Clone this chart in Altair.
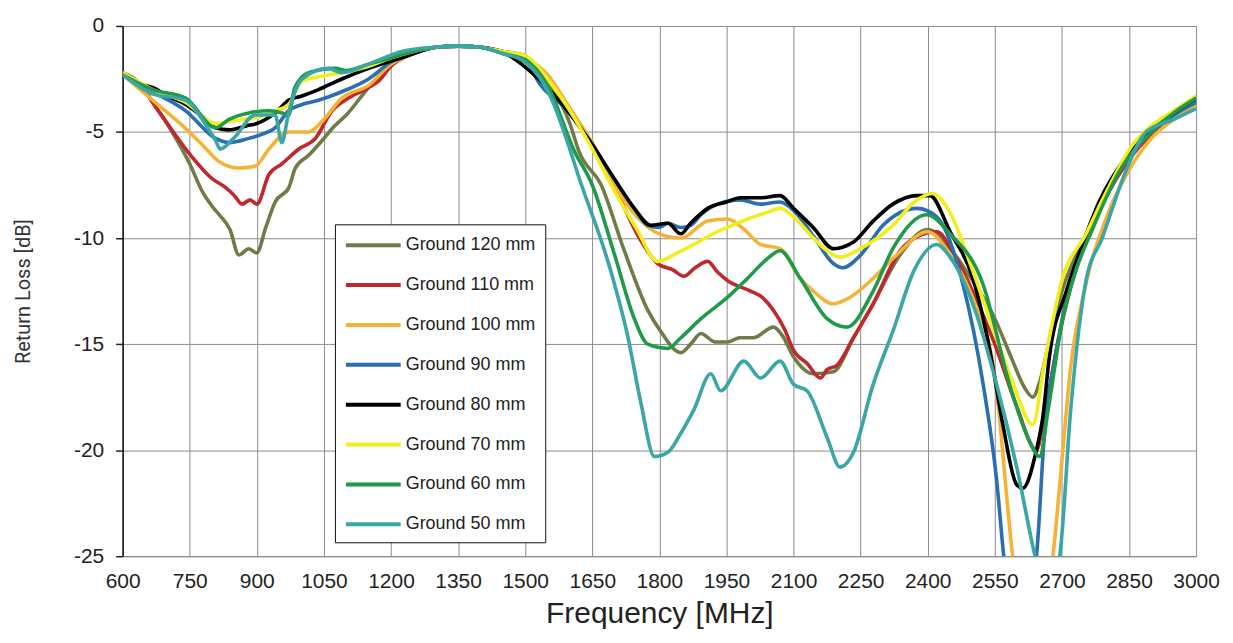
import altair as alt
import pandas as pd

series_names = ["Ground 120 mm", "Ground 110 mm", "Ground 100 mm", "Ground 90 mm",
                "Ground 80 mm", "Ground 70 mm", "Ground 60 mm", "Ground 50 mm"]
series_colors = ["#6e7c47", "#c1272d", "#f5b335", "#2a6fb0",
                 "#000000", "#f2ee1e", "#1f9a4a", "#3aa6a6"]

f_120 = [600, 650, 667, 705, 750, 778, 800, 816, 840, 860, 882, 900, 920, 941, 972, 986, 1016, 1046,
         1070, 1100, 1150, 1200, 1250, 1300, 1350, 1400, 1450, 1500, 1550, 1600, 1620, 1670, 1720,
         1774, 1803, 1848, 1870, 1893, 1925, 1952, 1980, 2010, 2055, 2075, 2100, 2145, 2189, 2234,
         2278, 2338, 2400, 2450, 2500, 2550, 2590, 2615, 2635, 2650, 2680, 2700, 2750, 2800, 2850,
         2900, 2950, 3000]
rl_120 = [-2.2, -3.0, -3.6, -4.8, -6.5, -7.8, -8.5, -8.9, -9.6, -10.8, -10.5, -10.7, -9.5, -8.3, -7.6,
          -6.7, -6.1, -5.4, -4.8, -4.2, -2.9, -1.8, -1.3, -1.0, -0.95, -1.0, -1.3, -1.7, -2.6, -4.6,
          -5.9, -7.5, -10.5, -13.4, -14.4, -15.4, -15.0, -14.5, -14.9, -14.9, -14.7, -14.7, -14.2,
          -14.6, -15.6, -16.4, -16.3, -14.7, -13.1, -10.8, -9.6, -10.5, -12.0, -13.8, -15.8, -17.0,
          -17.5, -16.8, -14.0, -12.5, -10.0, -7.8, -6.2, -5.0, -4.2, -3.5]

f_110 = [600, 650, 667, 700, 756, 800, 829, 850, 867, 885, 900, 927, 956, 994, 1031, 1068, 1105, 1150,
         1172, 1200, 1250, 1300, 1350, 1400, 1450, 1500, 1550, 1600, 1650, 1700, 1750, 1796, 1830,
         1855, 1880, 1908, 1930, 1952, 2004, 2030, 2055, 2080, 2100, 2130, 2160, 2175, 2197, 2234,
         2278, 2338, 2380, 2420, 2460, 2500, 2550, 2600, 2643, 2660, 2690, 2720, 2760, 2800, 2850,
         2900, 2950, 3000]
rl_110 = [-2.3, -3.1, -3.6, -4.6, -6.2, -7.2, -7.6, -8.0, -8.4, -8.2, -8.4, -7.0, -6.5, -5.8, -5.3,
          -4.0, -3.4, -2.9, -2.6, -1.9, -1.3, -1.0, -0.95, -1.0, -1.2, -1.5, -2.4, -3.9, -5.6, -7.6,
          -9.8, -11.2, -11.5, -11.8, -11.4, -11.1, -11.6, -12.0, -12.5, -12.8, -13.4, -14.3, -15.3,
          -15.9, -16.6, -16.2, -16.0, -14.7, -13.1, -10.6, -9.9, -9.7, -10.8, -12.5, -15.0, -18.0,
          -20.0, -18.5, -15.0, -12.3, -9.8, -8.0, -6.3, -5.1, -4.3, -3.6]

f_100 = [600, 667, 734, 778, 816, 860, 897, 927, 971, 1016, 1046, 1090, 1150, 1200, 1250, 1300, 1350,
         1400, 1450, 1500, 1550, 1600, 1650, 1700, 1750, 1800, 1848, 1908, 1952, 1990, 2026, 2070,
         2115, 2144, 2189, 2226, 2278, 2330, 2400, 2450, 2500, 2550, 2590, 2630, 2680, 2700, 2720,
         2750, 2800, 2850, 2900, 2950, 3000]
rl_100 = [-2.3, -3.5, -4.7, -5.6, -6.4, -6.7, -6.6, -5.8, -5.0, -5.0, -4.5, -3.4, -2.8, -1.8, -1.3,
          -1.0, -0.95, -1.0, -1.2, -1.5, -2.3, -3.9, -5.5, -7.5, -9.0, -9.8, -10.0, -9.2, -9.1, -9.6,
          -10.3, -10.5, -11.9, -12.5, -13.1, -12.8, -11.9, -10.8, -9.7, -10.8, -12.8, -16.5, -25.0,
          -30.0, -25.0, -20.5, -16.0, -12.5, -9.0, -6.8, -5.3, -4.4, -3.7]

f_90 = [600, 667, 741, 808, 838, 882, 912, 941, 971, 1001, 1038, 1090, 1150, 1200, 1250, 1300, 1350,
        1400, 1450, 1500, 1520, 1595, 1647, 1699, 1744, 1774, 1800, 1819, 1848, 1870, 1893, 1930,
        1981, 2026, 2070, 2100, 2144, 2189, 2210, 2250, 2300, 2376, 2420, 2479, 2524, 2554, 2570,
        2600, 2643, 2660, 2690, 2720, 2760, 2800, 2850, 2900, 2950, 3000]
rl_90 = [-2.3, -3.1, -4.0, -5.3, -5.5, -5.3, -5.1, -4.8, -4.0, -3.7, -3.5, -3.1, -2.5, -1.7, -1.3,
         -1.0, -0.95, -1.0, -1.2, -1.4, -2.3, -4.0, -5.5, -7.2, -8.6, -9.4, -9.5, -9.3, -9.5, -9.4,
         -8.9, -8.4, -8.2, -8.4, -8.3, -8.7, -9.9, -11.2, -11.4, -10.8, -9.4, -8.6, -9.0, -12.2,
         -16.9, -21.4, -25.0, -29.0, -25.0, -19.5, -15.0, -12.0, -9.5, -7.8, -6.1, -5.0, -4.2, -3.6]

f_80 = [600, 650, 667, 700, 741, 780, 808, 838, 878, 900, 941, 971, 1001, 1038, 1090, 1150, 1224, 1300,
        1350, 1400, 1447, 1520, 1595, 1647, 1699, 1744, 1781, 1819, 1848, 1870, 1908, 1950, 1981,
        2026, 2070, 2100, 2144, 2189, 2233, 2278, 2322, 2376, 2405, 2450, 2501, 2539, 2568, 2598,
        2612, 2643, 2657, 2672, 2710, 2746, 2783, 2850, 2900, 2950, 3000]
rl_80 = [-2.3, -2.8, -2.9, -3.3, -3.7, -4.3, -4.8, -4.9, -4.7, -4.6, -4.1, -3.5, -3.3, -3.0, -2.5,
         -2.0, -1.5, -1.0, -0.95, -1.0, -1.2, -2.3, -4.0, -5.5, -7.2, -8.6, -9.4, -9.3, -9.8, -9.3,
         -8.6, -8.3, -8.1, -8.1, -8.0, -8.6, -9.5, -10.5, -10.2, -9.2, -8.4, -8.0, -8.0, -9.7, -11.9,
         -15.3, -18.8, -21.6, -21.8, -20.0, -18.5, -15.6, -12.5, -10.3, -8.3, -6.0, -4.9, -4.1, -3.4]

f_70 = [600, 667, 741, 808, 840, 870, 900, 941, 971, 1001, 1038, 1090, 1150, 1200, 1250, 1300, 1350,
        1400, 1450, 1500, 1550, 1600, 1650, 1700, 1750, 1796, 1840, 1877, 1920, 1952, 1997, 2040,
        2070, 2100, 2140, 2175, 2204, 2249, 2322, 2370, 2410, 2450, 2500, 2550, 2590, 2635, 2660,
        2700, 2754, 2800, 2858, 2900, 2950, 3000]
rl_70 = [-2.2, -3.0, -3.6, -4.6, -4.5, -4.4, -4.3, -4.0, -3.7, -2.6, -2.4, -2.2, -1.9, -1.5, -1.2,
         -1.0, -0.95, -1.0, -1.2, -1.4, -2.5, -4.0, -5.8, -7.8, -9.6, -11.1, -10.7, -10.3, -9.8, -9.5,
         -9.1, -8.8, -8.6, -9.0, -9.9, -10.6, -10.9, -10.5, -9.4, -8.3, -7.9, -8.8, -11.5, -14.5,
         -16.8, -18.8, -16.0, -12.0, -9.8, -7.8, -5.6, -4.7, -4.0, -3.3]

f_60 = [600, 667, 741, 808, 838, 882, 927, 956, 971, 985, 1016, 1076, 1100, 1150, 1200, 1250, 1300,
        1350, 1400, 1450, 1500, 1550, 1610, 1650, 1700, 1744, 1774, 1819, 1848, 1893, 1952, 1997,
        2040, 2070, 2115, 2175, 2219, 2278, 2322, 2397, 2450, 2524, 2583, 2628, 2650, 2670, 2700,
        2724, 2770, 2830, 2900, 2950, 3000]
rl_60 = [-2.3, -3.0, -3.4, -4.8, -4.4, -4.1, -4.0, -4.1, -4.2, -2.9, -2.2, -2.0, -2.1, -1.8, -1.5,
         -1.2, -1.0, -0.95, -1.0, -1.3, -1.6, -2.8, -5.9, -7.5, -10.8, -13.8, -15.0, -15.2, -14.7,
         -13.8, -12.8, -11.9, -11.0, -10.6, -11.9, -13.8, -14.2, -12.5, -10.5, -8.9, -9.8, -12.2,
         -16.9, -19.6, -20.3, -18.0, -14.0, -12.0, -9.5, -6.8, -5.0, -4.1, -3.4]

f_50 = [600, 667, 741, 790, 808, 818, 848, 897, 941, 956, 971, 1001, 1060, 1090, 1150, 1224, 1300,
        1350, 1400, 1450, 1500, 1558, 1595, 1618, 1692, 1730, 1759, 1789, 1819, 1848, 1877, 1915,
        1937, 1989, 2026, 2070, 2100, 2130, 2175, 2204, 2234, 2278, 2322, 2370, 2420, 2450, 2509,
        2554, 2599, 2640, 2665, 2695, 2720, 2754, 2790, 2840, 2888, 2950, 3000]
rl_50 = [-2.3, -3.2, -3.5, -4.8, -5.4, -5.8, -5.3, -4.2, -4.2, -5.5, -4.1, -2.5, -2.0, -2.2, -1.8,
         -1.2, -1.0, -0.95, -1.0, -1.3, -1.7, -3.4, -5.5, -7.0, -11.6, -14.7, -17.8, -20.3, -20.1,
         -19.2, -18.1, -16.4, -17.2, -15.8, -16.6, -15.8, -16.9, -17.2, -19.4, -20.8, -20.1, -16.9,
         -14.4, -11.5, -10.3, -10.9, -13.6, -16.9, -20.8, -25.0, -27.0, -25.0, -18.0, -12.0, -10.0,
         -7.0, -5.0, -4.4, -3.9]

x_ticks = list(range(600, 3001, 150))
y_ticks = [-25, -20, -15, -10, -5, 0]

all_f = [f_120, f_110, f_100, f_90, f_80, f_70, f_60, f_50]
all_rl = [rl_120, rl_110, rl_100, rl_90, rl_80, rl_70, rl_60, rl_50]

rows = []
for idx, (name, fs, rls) in enumerate(zip(series_names, all_f, all_rl)):
    for f, r in zip(fs, rls):
        rows.append({"series": name, "order": idx, "freq": f, "rl": r})
df = pd.DataFrame(rows)

chart = alt.Chart(df).mark_line(clip=True, strokeWidth=3.6, interpolate="monotone").encode(
    x=alt.X("freq:Q",
            scale=alt.Scale(domain=[600, 3000], nice=False, zero=False),
            axis=alt.Axis(values=x_ticks, title="Frequency [MHz]", ticks=False,
                          labelFontSize=21, labelFont="Liberation Sans", labelColor="#222",
                          labelPadding=14, labelFlush=False, labelOverlap=False,
                          titleFontSize=30, titleFont="Liberation Sans",
                          titleFontWeight="normal", titleColor="#222", titlePadding=7,
                          domainColor="#888", gridColor="#8c8c8c", gridWidth=1,
                          labelExpr="datum.value + ''")),
    y=alt.Y("rl:Q",
            scale=alt.Scale(domain=[-25, 0], nice=False, zero=False),
            axis=alt.Axis(values=y_ticks, title="Return Loss [dB]", tickSize=7,
                          tickColor="#222", tickWidth=1.5, domainColor="#111", domainWidth=1.5,
                          labelFontSize=21, labelFont="Liberation Sans", labelColor="#222",
                          labelPadding=12, labelFlush=False,
                          titleFontSize=20, titleFont="Roboto",
                          titleFontWeight="normal", titleColor="#333", titlePadding=40,
                          gridColor="#8c8c8c", gridWidth=1,
                          labelExpr="datum.value + ''")),
    color=alt.Color("series:N",
                    scale=alt.Scale(domain=series_names, range=series_colors),
                    legend=alt.Legend(title=None, orient="none", legendX=213, legendY=199,
                                      symbolType="M-1,0H4.5", symbolSize=400, symbolStrokeWidth=4,
                                      labelFontSize=18, labelFont="Liberation Sans",
                                      labelColor="#222", rowPadding=19, padding=9,
                                      strokeColor="#111", fillColor="white",
                                      labelOffset=38)),
    detail="series:N",
    order="freq:Q",
).properties(
    width=1077, height=532,
    padding={"left": 5, "top": 6, "right": 5, "bottom": 5},
).configure_view(stroke=None).configure_axis(gridOpacity=1)

chart.save("out.html", embed_options={"renderer": "svg", "actions": False})
